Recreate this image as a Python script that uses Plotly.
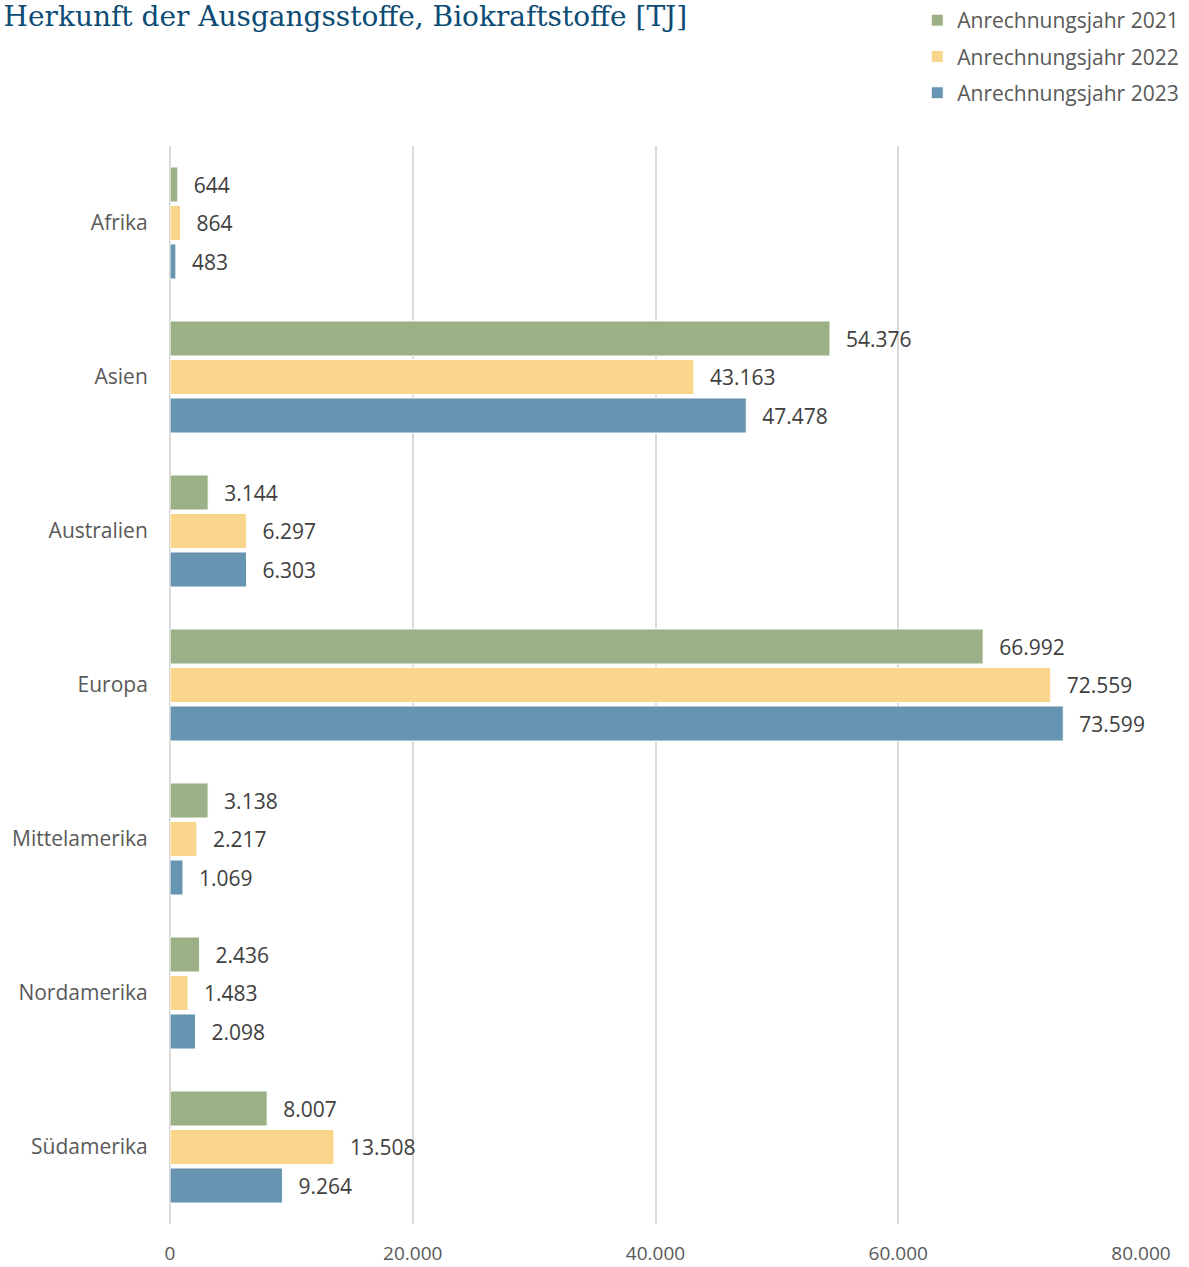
import plotly.graph_objects as go

categories = ["Afrika", "Asien", "Australien", "Europa", "Mittelamerika", "Nordamerika", "Südamerika"]
series_names = ["Anrechnungsjahr 2021", "Anrechnungsjahr 2022", "Anrechnungsjahr 2023"]
values_2021 = [644, 54376, 3144, 66992, 3138, 2436, 8007]
values_2022 = [864, 43163, 6297, 72559, 2217, 1483, 13508]
values_2023 = [483, 47478, 6303, 73599, 1069, 2098, 9264]
x_ticks = [0, 20000, 40000, 60000, 80000]

colors = ["#9CB087", "#F9D68B", "#6794B0"]
font_fam = "Open Sans, Noto Sans, sans-serif"

fig = go.Figure()
for i, (name, vals) in enumerate(zip(series_names, [values_2021, values_2022, values_2023])):
    fig.add_trace(go.Bar(
        y=categories, x=vals, name=name, orientation="h",
        marker=dict(color=colors[i], line=dict(color="white", width=1)),
        texttemplate="\u00a0\u00a0\u200a%{x:,}", textposition="outside",
        textfont=dict(family=font_fam, size=21, color="#404040"),
        cliponaxis=False, legendgroup=name,
    ))

fig.update_layout(
    width=1189, height=1267,
    margin=dict(l=170, r=48, t=146, b=43, autoexpand=False),
    paper_bgcolor="white", plot_bgcolor="white",
    separators=",.",
    barmode="group", bargap=0.25, bargroupgap=0.09,
    font=dict(family=font_fam, size=20, color="#404040"),
    title=dict(text="Herkunft der Ausgangsstoffe, Biokraftstoffe [TJ]",
               x=0.003, xanchor="left", y=0.987, yanchor="middle", pad=dict(t=0, l=0),
               font=dict(family="DejaVu Serif, serif", size=28, color="#0B4B74")),
    legend=dict(x=0.996, xanchor="right", y=1.0, yanchor="top", yref="container", xref="container",
                font=dict(size=21, color="#595959"), tracegroupgap=6,
                itemwidth=30),
    showlegend=True,
)
fig.update_xaxes(range=[0, 80000], tickvals=x_ticks, tickformat=",",
                 showgrid=True, gridcolor="#D9D9D9", gridwidth=2,
                 zeroline=True, zerolinecolor="#D9D9D9", zerolinewidth=2,
                 ticks="outside", ticklen=12, tickcolor="rgba(0,0,0,0)",
                 tickfont=dict(size=19, color="#595959"), showline=False)
fig.update_yaxes(autorange="reversed", ticks="outside", ticklen=17,
                 tickcolor="rgba(0,0,0,0)", tickfont=dict(size=21, color="#595959"),
                 showgrid=False, showline=False)

fig.write_html("out.html")
